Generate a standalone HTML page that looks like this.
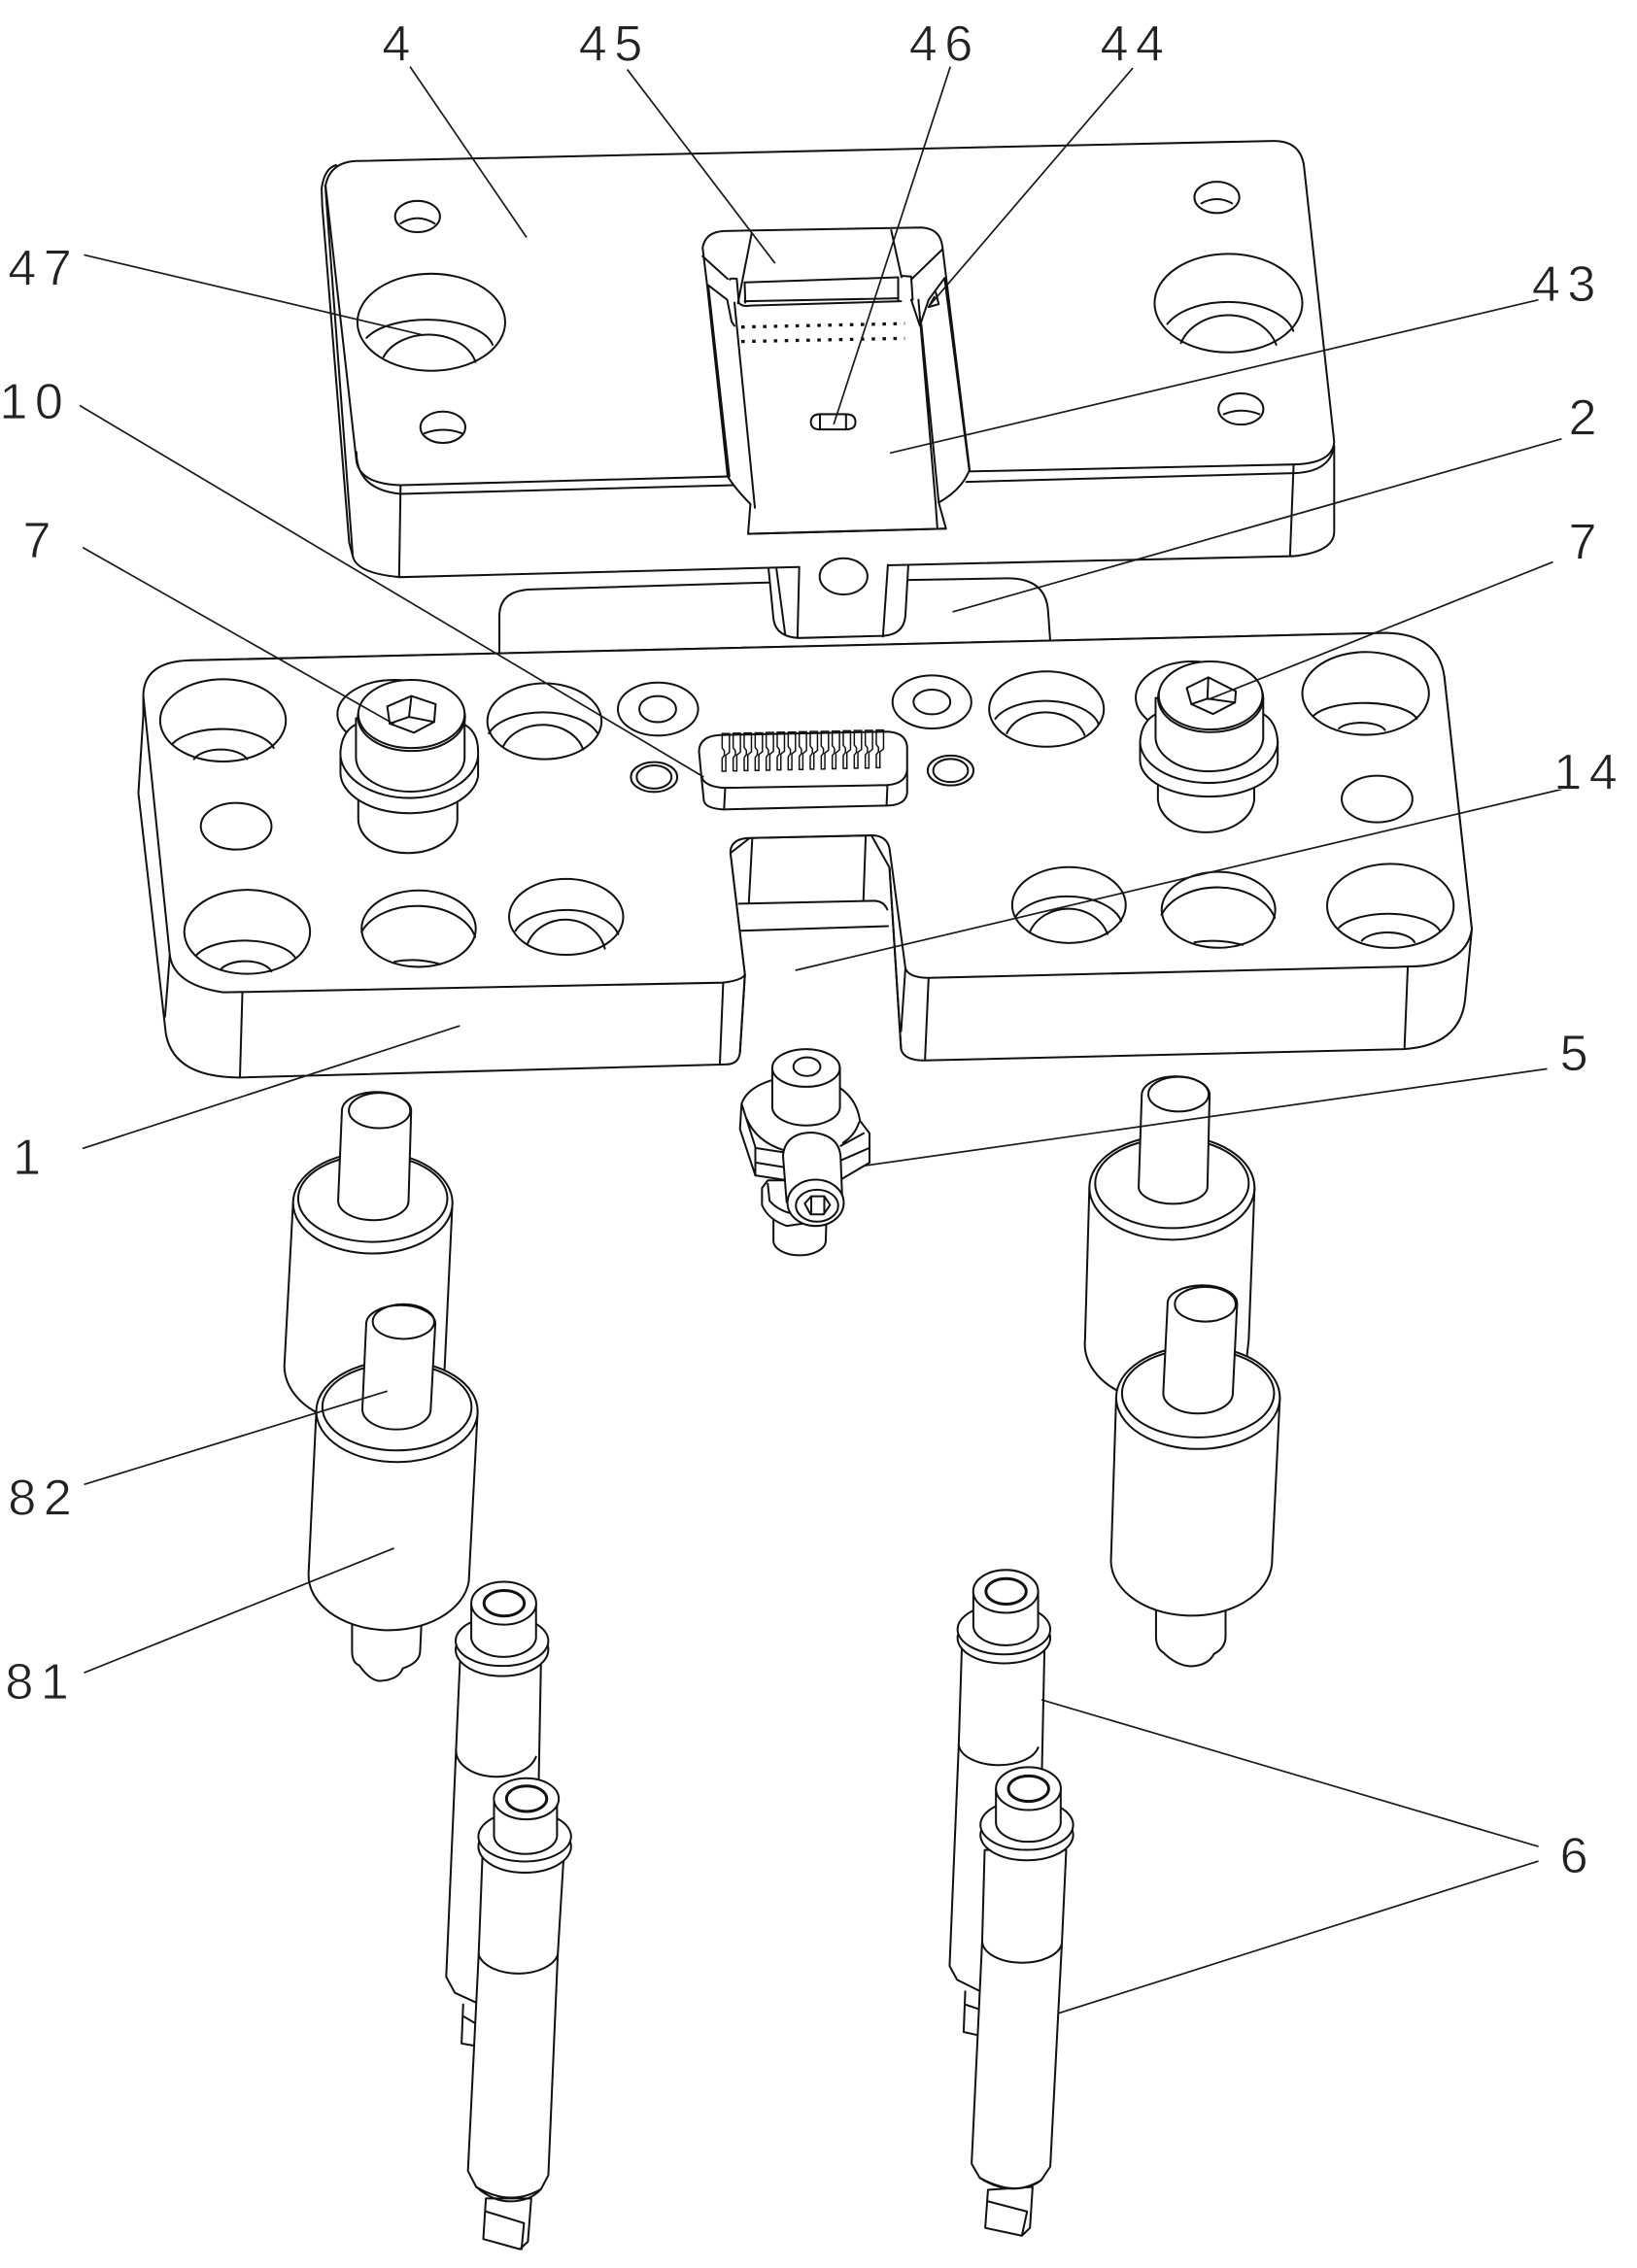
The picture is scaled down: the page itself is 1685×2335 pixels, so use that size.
<!DOCTYPE html>
<html><head><meta charset="utf-8"><style>
html,body{margin:0;padding:0;background:#fff;width:1685px;height:2335px;overflow:hidden}
svg{display:block}
.l path,.l ellipse,.l line{stroke:#111;stroke-width:1.35;stroke-linejoin:round;stroke-linecap:round}
.n{fill:none}.w{fill:#fff}
.ld line{stroke:#1a1a1a;stroke-width:1.15}
text{font-family:"Liberation Sans",sans-serif;font-size:35px;letter-spacing:5px;fill:#222;stroke:#fff;stroke-width:.55px;paint-order:normal;text-anchor:middle}
</style></head><body>
<svg width="1685" height="2335" viewBox="0 0 1130 1566" xmlns="http://www.w3.org/2000/svg">
<rect width="1130" height="1566" fill="#fff"/>
<defs>
<path id="pin" d="M-2.5 0v10l1.5 2v3l-1.5 2v9h2.5v-11l2.5-2v-13z" fill="none" stroke="#111" stroke-width="1"/>
</defs>
<g class="l">
<!-- plate 2 -->
<g class="n" fill="none">
<path fill="none" d="M530.5 402.2L365.9 407Q345 408 344.7 425L344.7 451"/>
<path fill="none" d="M627 400.5L695 399.3Q722 399 723.5 422L725 443"/>
<path fill="none" d="M530.5 392.5L534 428Q536 440 552 440.5L610 439Q624 438 625 425L627 390"/>
<path fill="none" d="M551.7 391.5L550.5 440.5M612.9 390L609.5 439.5M536 393L542 438"/>
<ellipse fill="none" cx="582.3" cy="398" rx="16.5" ry="12.5"/>
</g>
<!-- plate 4 -->
<g fill="none">
<path d="M502 329L276.5 335Q248 334 246 318L224.7 128Q228 112 245.9 111.2L878.7 97.3Q897 97 900 113.5L921 305Q920 320 893 320.7L669 325.5"/>
<path d="M246 312Q246 338 276.5 341L507 335M667 332.7L893 326.7Q918 326 921 308"/>
<path d="M921 308L921 367Q921 381 893 384L627 390M612.9 390.3L627 390M551.7 391.5L276.5 398.5Q246 396 243.5 384L241 374.6L222.4 142L222 130Q224 116 232 114"/>
<path d="M224.5 128L243.5 384M276.5 335L275.5 398.5M893 320.7L890.5 384"/>
<ellipse cx="288.2" cy="149.5" rx="15.5" ry="10.8"/><path d="M276.5 154.3Q288 147 300 154.3"/>
<ellipse cx="297.7" cy="222.5" rx="51" ry="33.5"/><path d="M253 233.3A45.8 21 0 0 1 340 238M264.7 246.5A33.4 24.6 0 0 1 328.2 250"/>
<ellipse cx="305.7" cy="295" rx="15.5" ry="10.8"/><path d="M293 299.2Q306 294.4 318.8 299.2"/>
<ellipse cx="840" cy="136.3" rx="15.5" ry="10.8"/><path d="M829.3 140.4Q840 134.6 850.5 140.4"/>
<ellipse cx="848" cy="209.3" rx="51" ry="34"/><path d="M805.8 223.7A45.8 25 0 0 1 892.8 228.5M815.2 236.9A34.7 29 0 0 1 881 238"/>
<ellipse cx="856.6" cy="282.4" rx="15.5" ry="10.8"/><path d="M844.8 286Q857 281 869.3 286"/>
</g>
<!-- channel 43 -->
<path class="w" d="M500 159.5L636.4 157.1Q649 158 650.5 170L669.3 324.3Q664 338 648 347L653 365L516.4 368.6L518 348Q508 338 502.3 329L488.2 197.4L485 171Q487 160 500 159.5Z"/>
<g fill="none">
<path d="M485 177L502.3 192.6M518.8 161.4L509.4 209.3M615.2 159L622.3 191.4M650.5 172.2L629.4 192.6"/>
<path d="M514 195L620 191.5M514 208L620 206M510 209Q512 212 518 211L622 208"/>
<path d="M504 193Q503 192 508.6 192.5L510 209M514 195L514.5 209M620 192L620 207M622.5 190.5L629 191L630 207"/>
<path d="M489 197L502 207L505 222L507 225M652 192L641 207L635 225L629 207M645 205L641 212L648 210L646 202"/>
<path d="M507 209L521.1 350.6M634 207L645.8 347M636 224L648 347M489 198L503.5 329"/>
<path d="M652 192L669 324"/>
<path d="M516.4 368.6L653 365M645.8 347L647 364"/>
<path d="M559.7 291.5Q560 286 566 286H584Q590.5 286 590.5 291.5Q590.5 296.5 584 296.5H566Q560 296.5 559.7 291.5ZM566 286V296.5M584 286V296"/>
</g>
<path d="M511.7 225.8L624.6 223.4" fill="none" style="stroke-width:2.2;stroke-dasharray:2.4 5.1;stroke-linecap:butt"/>
<path d="M511.7 235.8L624.6 233.6" fill="none" style="stroke-width:2.2;stroke-dasharray:2.4 5.1;stroke-linecap:butt"/>
<!-- plate 1 -->
<path class="w" d="M98.9 494L95.5 547.7L113.9 708.7Q116 744 165.6 744L500.8 735Q510 735 510.8 726.6L514.2 673L504.2 589L517.6 578.6L601.5 576.8L614 599L622 724.4Q624 732.2 637.9 732.2L968.6 724.4Q1008 722 1011.4 690L1016 641.6L997 467L957.5 437L130.6 456L98.9 480.6Z"/>
<path class="w" d="M130.6 456L957.5 437Q993 438 997 467L1016 641.6Q1012 667 973.4 667.3L641 675.2Q627 675 625 668.5L614 585.7Q612 576.8 601.5 576.8L517.6 578.6Q504 579 504.2 589L514.2 673Q512 677 499.2 678.5L154 685.2Q120 680 117.2 659.5L98.9 480.6Q99 457 130.6 456Z"/>
<g fill="none">
<path d="M117.2 659.5L113.9 702M167.3 685.2L165.6 744M499.2 678.5L496.9 735M641 675.2L638.5 732.2M971.8 667.3L969.5 724.4M514.2 673L510.8 726.6"/>
<path d="M519.3 578.6L516.9 623.7M597.6 576.8L596 622M510 624L603 622Q610 622 612.5 628M510.8 642.7L613 639.5"/>
<path d="M614 599L622 724.4M625 668.5L622 712"/>
<ellipse cx="153.9" cy="497.4" rx="43.4" ry="28.4"/><path d="M118.9 513.7A37 17 0 0 1 188.9 516.4M133.9 524.2A19.3 9.7 0 0 1 170.6 524.2"/>
<ellipse cx="375.8" cy="498" rx="39.4" ry="26.2"/><path d="M337.4 506.3A39.5 21 0 0 1 412.5 506.3M347.4 515.3A29 23 0 0 1 402.5 517.5"/>
<ellipse cx="454.2" cy="489.6" rx="27.7" ry="18.3"/><ellipse cx="454" cy="489.6" rx="12.7" ry="9"/>
<ellipse cx="451.5" cy="536.5" rx="16" ry="10.3"/><ellipse cx="451.5" cy="536.5" rx="12" ry="8"/>
<ellipse cx="163" cy="570.5" rx="24.4" ry="16.1"/>
<ellipse cx="170.6" cy="643.4" rx="43.4" ry="29"/><path d="M135.6 659.5A36 16 0 0 1 204 661.7M152.2 669.6A18.5 9.4 0 0 1 187.3 670.7"/>
<ellipse cx="289" cy="641.2" rx="39.4" ry="26.4"/><path d="M249.6 643.4A41 27.5 0 0 1 328 647M272.3 664Q288 661 304 665.8"/>
<ellipse cx="390.8" cy="633.1" rx="39.4" ry="26.2"/><path d="M355.8 642.7A37.4 22.5 0 0 1 426.8 645M364.1 651.7A28 26 0 0 1 417.5 655"/>
<ellipse cx="643.3" cy="484.7" rx="27.2" ry="18.3"/><ellipse cx="643.3" cy="484.7" rx="12.7" ry="8.5"/>
<ellipse cx="656.2" cy="532" rx="15.8" ry="10.3"/><ellipse cx="656.2" cy="532" rx="12" ry="8"/>
<ellipse cx="722.4" cy="489.6" rx="39.6" ry="26"/><path d="M687 496.3A37.5 20 0 0 1 758.2 499.6M695 506.3A28.3 22 0 0 1 748.7 507.5"/>
<ellipse cx="942.7" cy="478.8" rx="43.7" ry="28.6"/><path d="M906.9 494A37.5 14 0 0 1 978.1 496.3M924.3 503A16.7 6.5 0 0 1 956 504.1"/>
<ellipse cx="950.6" cy="551.7" rx="24.4" ry="16.1"/>
<ellipse cx="737.9" cy="624.9" rx="39.2" ry="26.2"/><path d="M701.2 632.7A38.3 22 0 0 1 774 636M710.7 643.9A28.4 25 0 0 1 764.5 645"/>
<ellipse cx="841.1" cy="628.2" rx="39.2" ry="26.2"/><path d="M801.8 631.6A41 28.5 0 0 1 880 633.8M824.6 650.6Q841 648 857.8 652.4"/>
<ellipse cx="959.8" cy="625.5" rx="43.7" ry="29"/><path d="M924.3 640.5A36.8 15.5 0 0 1 994 642.7M940.1 649.5A19.2 9 0 0 1 976.5 650.6"/>
<ellipse cx="272.3" cy="493" rx="39.4" ry="23.5"/>
<ellipse cx="823" cy="481.7" rx="39" ry="25"/>
</g>
<!-- connector 10 -->
<path class="w" d="M482.5 518.6Q483 508 497.5 507.5L612.6 505.2Q626 506 626.2 516.4V547.7Q625 556 612.6 556.2L499.2 558.9Q486 558 485.8 552.2L484.2 536.5Z"/>
<path fill="none" d="M484.2 536.5Q487 543.5 500.8 544L612.6 542.1Q625 541 626.2 532M500.6 544L499.8 558.8M612.6 542L612 556"/>
<g>
<use href="#pin" x="501" y="506.5"/><use href="#pin" x="508.6" y="506.3"/><use href="#pin" x="516.2" y="506.1"/><use href="#pin" x="523.8" y="506"/><use href="#pin" x="531.4" y="505.8"/><use href="#pin" x="539" y="505.6"/><use href="#pin" x="546.6" y="505.5"/><use href="#pin" x="554.2" y="505.3"/><use href="#pin" x="561.8" y="505.1"/><use href="#pin" x="569.4" y="505"/><use href="#pin" x="577" y="504.8"/><use href="#pin" x="584.6" y="504.6"/><use href="#pin" x="592.2" y="504.4"/><use href="#pin" x="599.8" y="504.3"/><use href="#pin" x="607.4" y="504.1"/>
</g>
<!-- bolt left -->
<path class="w" d="M247.3 550V565.6A34.2 23.4 0 0 0 315.7 565.6V550Z"/>
<path class="w" d="M235 534V519Q236 505 246 500L320 500Q330 505 330 519V536A47.6 28 0 0 1 235 534Z"/>
<path fill="none" d="M235 522A47.6 31 0 0 0 330 522"/>
<path class="w" d="M245.7 496V523A37.5 23.6 0 0 0 320.7 523V496Z"/>
<ellipse class="w" cx="284" cy="495" rx="37" ry="23.5"/>
<ellipse class="w" cx="284" cy="493" rx="36.7" ry="23.5"/>
<path class="w" d="M284 480.6L300.7 486.2L299.7 498.5L285.7 505.9L269 499.6L267.3 487.8Z"/>
<path fill="none" d="M284 480.6L282.3 495M282.3 495L269 499.6M282.3 495L299.7 498.5"/>
<!-- bolt right -->
<path class="w" d="M799.3 535V552A33.3 24 0 0 0 865.8 552V535Z"/>
<path class="w" d="M787 525V512Q788 498 798 493L872 493Q881 498 882 512V525A47.5 25 0 0 1 787 525Z"/>
<path fill="none" d="M787 512A47.5 28.6 0 0 0 882 512"/>
<path class="w" d="M797.7 482V510A37.2 23.8 0 0 0 872 510V482Z"/>
<ellipse class="w" cx="835.7" cy="482" rx="36.3" ry="23.5"/>
<ellipse class="w" cx="835.7" cy="480.2" rx="35.8" ry="23.5"/>
<path class="w" d="M834.1 467.7L853.1 477.3L852.5 485.1L837.3 493L822.4 486.2L819.2 475Z"/>
<path fill="none" d="M834.1 467.7L833.5 482.4M833.5 482.4L822.4 486.2M833.5 482.4L852.5 485.1"/>
<!-- part 5 -->
<path class="w" d="M533.9 840V856.7A18 10 0 0 0 570 856.7L570.5 840Z"/>
<path class="w" d="M526 820.3V832Q530 842 543.2 846.5L560 844L556 815L530 815Z"/>
<path fill="none" d="M530 817.4L531.2 829Q536 835 545.8 837.8"/>
<path class="w" d="M511.9 762L510.8 779.6L521.4 811.6L540.5 814.5H580.3L600.2 802.8V782.5L593.6 773.8Q590 748 555 742Q518 745 511.9 762Z"/>
<path fill="none" d="M522 792.7L540.5 795.6M522 802.8L540.5 805.8M580.3 791.2L596.2 782.5M580 801.4L600 792.7M515.3 772.3Q522 788 540.5 794M593 775Q590 784 582 789M511.9 762L521.4 792M521.4 792V811.6"/>
<path class="w" d="M533.1 737V765A23.4 13 0 0 0 579.8 765V737Z"/>
<ellipse class="w" cx="556.4" cy="737.4" rx="23.3" ry="13"/>
<ellipse fill="none" cx="557" cy="736.5" rx="9.3" ry="6.4"/>
<path class="w" d="M540.5 798Q542 782 561 782Q580 784 580.3 800L581.5 830H543Z"/>
<ellipse class="w" cx="563" cy="830.5" rx="19.4" ry="16"/>
<ellipse fill="none" cx="564" cy="832.5" rx="14.6" ry="11"/>
<path fill="none" d="M555.5 831L560 826H569L573 832L568.5 838.5H559.5ZM560 826.5V838M569 826V838"/>
<!-- pillar back-left -->
<path class="w" d="M202.3 830L196.3 942.5A55 40 0 0 0 218 975L305 975L307 942.5L312.3 830Z"/>
<ellipse class="w" cx="257.3" cy="830.5" rx="55" ry="35"/>
<ellipse fill="none" cx="257.3" cy="827.5" rx="51.5" ry="30"/>
<path class="w" d="M236 767A23.9 13 0 0 1 283.8 767L282 829A24.3 13.5 0 0 1 233.4 829Z"/>
<ellipse fill="none" cx="262" cy="766.8" rx="21.2" ry="12.2"/>
<!-- pillar front-left -->
<path class="w" d="M243 1118V1140Q243 1148 248 1150Q255 1160 262 1160.7Q275 1160 278 1152Q290 1148 290 1140L291 1118Z"/>
<path class="w" d="M218.3 974.5L213 1086.4A55.5 38 0 0 0 323.6 1092L329.7 974.5Z"/>
<ellipse class="w" cx="274" cy="974.5" rx="55.7" ry="35"/>
<ellipse fill="none" cx="274" cy="971.5" rx="51.5" ry="30"/>
<path class="w" d="M252.8 913.4A23.9 13 0 0 1 300.5 913.4L297.3 973A23.6 14 0 0 1 250.1 973Z"/>
<ellipse fill="none" cx="278.5" cy="912.5" rx="21.2" ry="12"/>
<!-- pillar back-right -->
<path class="w" d="M752 820L749 925A55 40 0 0 0 775 962L858 962L862 925L866 820Z"/>
<ellipse class="w" cx="809" cy="820" rx="57" ry="36"/>
<ellipse fill="none" cx="809" cy="817" rx="53" ry="31"/>
<path class="w" d="M788.2 755A23.5 13 0 0 1 835 755L833.5 820A23.8 12 0 0 1 786 820Z"/>
<ellipse fill="none" cx="813.5" cy="755.5" rx="20.8" ry="12"/>
<!-- pillar front-right -->
<path class="w" d="M798 1108V1130Q798 1138 803 1141Q812 1150 822 1150.5Q834 1150 838 1142Q846 1138 846 1130V1108Z"/>
<path class="w" d="M770.5 965L767 1075A55.5 38 0 0 0 878 1080L883.5 965Z"/>
<ellipse class="w" cx="827" cy="965" rx="56.5" ry="35.5"/>
<ellipse fill="none" cx="827" cy="962" rx="52.5" ry="30.5"/>
<path class="w" d="M806 900A24 12.5 0 0 1 854 900L851 962A24 14 0 0 1 803 962Z"/>
<ellipse fill="none" cx="832" cy="900.5" rx="21" ry="12"/>
<!-- 6 back left -->
<path class="w" d="M317.5 1147L314.8 1208L308 1365L314 1376L328.6 1382.7L369 1382L373.4 1148.5Z"/>
<path fill="none" d="M314.8 1208A28 18 0 0 0 370 1213M319.7 1384L318.6 1411L327.5 1412.5M319.5 1392L328 1397"/>
<ellipse class="w" cx="346.5" cy="1139" rx="32" ry="18.3"/>
<ellipse class="w" cx="346.5" cy="1133" rx="32" ry="17.3"/>
<path class="w" d="M325.3 1107V1131A22.4 14 0 0 0 370 1131V1107Z"/>
<ellipse class="w" cx="347.7" cy="1107" rx="22.4" ry="14.8"/>
<ellipse fill="none" cx="348" cy="1107" rx="13.9" ry="8.8" style="stroke-width:2"/>
<!-- 6 front left -->
<path class="w" d="M335.4 1518L333.6 1546L358.8 1553L364.4 1547.8L366.7 1518Z"/>
<path fill="none" d="M335.4 1527L361.7 1535L360 1553"/>
<path class="w" d="M333 1282L330.4 1349.7L323 1499L328.7 1510Q352 1524 373.4 1511.6L378.5 1502L385 1349.7L389 1283.6Z"/>
<path fill="none" d="M330.4 1349.7A27.8 16 0 0 0 385 1349.7M328.7 1510Q340 1520 352 1520Q366 1520 373.4 1511.6"/>
<ellipse class="w" cx="362.2" cy="1275" rx="32" ry="18"/>
<ellipse class="w" cx="362.2" cy="1268" rx="32" ry="17.3"/>
<path class="w" d="M341 1242V1268A21.8 13 0 0 0 384.5 1268V1242Z"/>
<ellipse class="w" cx="363.3" cy="1242" rx="22.4" ry="14.2"/>
<ellipse fill="none" cx="363.5" cy="1242" rx="13.9" ry="8.8" style="stroke-width:2"/>
<!-- 6 back right -->
<path class="w" d="M664 1136L661.8 1205L655.5 1357.5L660.7 1367L676.3 1374.8L716 1374L721 1139Z"/>
<path fill="none" d="M661.8 1205A27.7 15 0 0 0 716.6 1206.6M666.3 1375L665.2 1403L674 1405M666 1384L675 1387"/>
<ellipse class="w" cx="693" cy="1131" rx="32" ry="17.5"/>
<ellipse class="w" cx="693" cy="1125" rx="32" ry="17.3"/>
<path class="w" d="M671.9 1099V1123A22.4 14 0 0 0 716.6 1123V1099Z"/>
<ellipse class="w" cx="694.2" cy="1098.8" rx="22.4" ry="14.8"/>
<ellipse fill="none" cx="694.5" cy="1098.8" rx="13.9" ry="8.8" style="stroke-width:2"/>
<!-- 6 front right -->
<path class="w" d="M682 1512L680.1 1538.3L705.4 1543.7L711 1538.3L712.8 1510Z"/>
<path fill="none" d="M682 1520L709 1527L705.4 1543.7"/>
<path class="w" d="M679.7 1277.4L678 1340L670.7 1494L676.3 1503.7Q698 1518 718.8 1505.3L725 1496L733 1342L736 1277.4Z"/>
<path fill="none" d="M678 1340A27.6 15 0 0 0 733 1342M676.3 1503.7Q690 1511 700 1511Q712 1511 718.8 1505.3"/>
<ellipse class="w" cx="708.8" cy="1267" rx="32" ry="17.5"/>
<ellipse class="w" cx="708.8" cy="1260" rx="32" ry="17.3"/>
<path class="w" d="M687.5 1235V1259A22.4 13.6 0 0 0 732.2 1259V1235Z"/>
<ellipse class="w" cx="709.9" cy="1235" rx="22.4" ry="14.8"/>
<ellipse fill="none" cx="710" cy="1235" rx="13.9" ry="8.8" style="stroke-width:2"/>
</g>
<!-- leaders -->
<g class="ld">
<line x1="283" y1="46" x2="363.5" y2="164"/>
<line x1="433" y1="48" x2="535" y2="181.8"/>
<line x1="656" y1="46" x2="575.5" y2="293"/>
<line x1="782" y1="47" x2="641" y2="211.7"/>
<line x1="58" y1="176" x2="290.6" y2="231"/>
<line x1="1062" y1="207" x2="614.3" y2="312.8"/>
<line x1="55" y1="280" x2="485.8" y2="536.5"/>
<line x1="1078" y1="303" x2="657.6" y2="422.5"/>
<line x1="57" y1="378" x2="272" y2="500"/>
<line x1="1072" y1="388" x2="834" y2="483"/>
<line x1="1078" y1="545" x2="549" y2="670"/>
<line x1="57" y1="793" x2="317.4" y2="708.3"/>
<line x1="1068" y1="738" x2="596" y2="805"/>
<line x1="58" y1="1025" x2="267.4" y2="960.5"/>
<line x1="58" y1="1155" x2="272" y2="1069"/>
<line x1="1062" y1="1275" x2="718.8" y2="1173.6"/>
<line x1="1062" y1="1285" x2="731" y2="1390"/>
</g>
<g>
<text x="276" y="42">4</text>
<text x="424" y="42">45</text>
<text x="652" y="42">46</text>
<text x="784" y="42">44</text>
<text x="30" y="197">47</text>
<text x="1082" y="208">43</text>
<text x="24" y="289">10</text>
<text x="1095" y="300">2</text>
<text x="28" y="385">7</text>
<text x="1095" y="386">7</text>
<text x="1097" y="545">14</text>
<text x="21" y="811">1</text>
<text x="1089" y="739">5</text>
<text x="30" y="1046">82</text>
<text x="28" y="1173">81</text>
<text x="1089" y="1293">6</text>
</g>
</svg>
</body></html>
